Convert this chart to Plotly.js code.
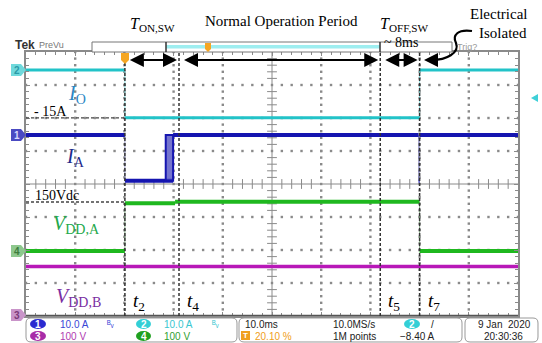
<!DOCTYPE html>
<html><head><meta charset="utf-8">
<script src="https://cdn.plot.ly/plotly-3.0.1.min.js"></script>
<style>html,body{margin:0;padding:0;background:#fff}#c{width:542px;height:343px}</style>
</head><body><div id="c"></div>
<script>
// ---- data (time in ms, 10 ms/div) ----
const ch2Edges = [0, 20.1, 80.0, 100];          // I_O  (A)
const ch2Levels = [0, -14.5, 0];
const ch1Edges = [0, 20.1, 29.9, 79.8, 80.0, 100]; // I_A (A)
const ch1Levels = [0, -13.9, 0, -14.0, 0];
const ch1Band = [28.4, 29.9];                    // switching band of I_A
const ch4Edges = [0, 20.1, 30.3, 80.0, 100];    // V_DD,A (V)
const ch4Levels = [0, 144.5, 149, 0];
const ch3Edges = [0, 100];                       // V_DD,B (V)
const ch3Levels = [150];
const markTimes = [20.1, 31.1, 72.0, 80.0];
const markLabels = ['2', '4', '5', '7'];
const refIO = -14.5;     // "-15A" reference
const refVDD = 148.5;    // "150Vdc" reference

// ---- channel settings (scope vertical position in div, units/div) ----
const chan = {1:{off:5.485, sc:10}, 2:{off:7.455, sc:10}, 3:{off:0.0, sc:100}, 4:{off:1.97, sc:100}};
const yv = (ch, v) => chan[ch].off + v / chan[ch].sc;

function levels(edges, lv, ch){
  const x=[], y=[];
  for(let i=0;i<lv.length;i++){ x.push(edges[i], edges[i+1], null); y.push(yv(ch,lv[i]), yv(ch,lv[i]), null); }
  return {x, y};
}
function trans(edges, lv, ch){
  const x=[], y=[];
  for(let i=0;i<lv.length-1;i++){ x.push(edges[i+1], edges[i+1], null); y.push(yv(ch,lv[i]), yv(ch,lv[i+1]), null); }
  return {x, y};
}
const col = {1:'#1515b0', 2:'#22c3c8', 3:'#b818b8', 4:'#1fb81f'};
const traces = [];
function addCh(edges, lv, ch, w, tcol){
  const t = trans(edges, lv, ch);
  traces.push({x:t.x, y:t.y, mode:'lines', line:{color:tcol, width:1}, hoverinfo:'skip'});
  const l = levels(edges, lv, ch);
  traces.push({x:l.x, y:l.y, mode:'lines', line:{color:col[ch], width:w}, hoverinfo:'skip'});
}

// graticule: dotted division lines + centre-line ticks (drawn as marker traces)
const dX=[], dY=[];
for(let i=1;i<10;i++){ if(i===5) continue; for(let k=0;k<=40;k++){ dX.push(i*10); dY.push(k*0.2); } }
for(let j=1;j<8;j++){ if(j===4) continue; for(let k=0;k<=50;k++){ dX.push(k*2); dY.push(j); } }
traces.push({x:dX, y:dY, mode:'markers', marker:{symbol:'square', size:2.4, color:'#8a8a8a', line:{width:0}}, hoverinfo:'skip'});
const gx=[], gy=[], hx=[], hy=[];
for(let i=1;i<50;i++){ if(i%5){ gx.push(i*2); gy.push(4);} }
for(let i=1;i<40;i++){ if(i%5){ hx.push(50); hy.push(i*0.2);} }
traces.push({x:gx, y:gy, mode:'markers', marker:{symbol:'line-ns', size:7, line:{color:'#8a8a8a', width:1}}, hoverinfo:'skip'});
traces.push({x:hx, y:hy, mode:'markers', marker:{symbol:'line-ew', size:7, line:{color:'#8a8a8a', width:1}}, hoverinfo:'skip'});

addCh(ch3Edges, ch3Levels, 3, 3.5, 'rgba(184,24,184,0.5)');
addCh(ch4Edges, ch4Levels, 4, 4, 'rgba(90,140,90,0.7)');
addCh(ch1Edges, ch1Levels, 1, 4, 'rgba(90,90,160,0.6)');
// switching band of I_A
traces.push({x:[ch1Band[0], ch1Band[1], ch1Band[1], ch1Band[0], ch1Band[0]],
  y:[yv(1,ch1Levels[1]), yv(1,ch1Levels[1]), yv(1,0), yv(1,0), yv(1,ch1Levels[1])],
  mode:'lines', fill:'toself', fillcolor:'rgba(70,70,190,0.75)', line:{color:col[1], width:2}, hoverinfo:'skip'});
addCh(ch2Edges, ch2Levels, 2, 3, 'rgba(34,195,200,0.5)');

// ---- pixel helpers for layout decorations ----
const L=26, R=518, T=52, B=316;
const px = x => (x-L)/(R-L);
const py = y => (B-y)/(B-T);
const SERIF = 'Liberation Serif, Times New Roman, serif';
const SANS = 'Liberation Sans, Arial, sans-serif';
const ann = [];
function txt(x, y, text, size, color, fam, xa){
  ann.push({xref:'paper', yref:'paper', x:px(x), y:py(y), text, showarrow:false,
    xanchor:xa||'center', yanchor:'middle', font:{family:fam||SERIF, size, color:color||'#000'}});
}
const shapes = [];
function pathPx(d, fill, line){
  const s = d.map(p => p[0] + (p.length>1 ? ' ' + p.slice(1).map((v,i)=> i%2===0 ? px(v).toFixed(5) : py(v).toFixed(5)).join(',') : '')).join(' ');
  shapes.push({type:'path', xref:'paper', yref:'paper', path:s, fillcolor:fill||'rgba(0,0,0,0)', line:line||{width:0}, layer:'above'});
}
function rectPx(x0,y0,x1,y1,fill,line){
  shapes.push({type:'rect', xref:'paper', yref:'paper', x0:px(x0), x1:px(x1), y0:py(y1), y1:py(y0), fillcolor:fill||'rgba(0,0,0,0)', line:line||{width:0}, layer:'above'});
}
function rrect(x0,y0,x1,y1,r,line){
  pathPx([['M',x0+r,y0],['L',x1-r,y0],['Q',x1,y0,x1,y0+r],['L',x1,y1-r],['Q',x1,y1,x1-r,y1],['L',x0+r,y1],['Q',x0,y1,x0,y1-r],['L',x0,y0+r],['Q',x0,y0,x0+r,y0],['Z']], 'rgba(0,0,0,0)', line);
}
function ell(x0,y0,x1,y1,fill,label,lc){
  shapes.push({type:'circle', xref:'paper', yref:'paper', x0:px(x0), x1:px(x1), y0:py(y1), y1:py(y0), fillcolor:fill, line:{width:0}, layer:'above'});
  txt((x0+x1)/2, (y0+y1)/2, '<b>'+label+'</b>', 10, lc||'#fff', SANS);
}

// center lines
shapes.push({type:'line', xref:'x', yref:'y', x0:50, x1:50, y0:0, y1:8, line:{color:'#8a8a8a', width:1}, layer:'below'});
shapes.push({type:'line', xref:'x', yref:'y', x0:0, x1:100, y0:4, y1:4, line:{color:'#8a8a8a', width:1}, layer:'below'});
// bottom border darker
shapes.push({type:'line', xref:'x', yref:'y', x0:0, x1:100, y0:0, y1:0, line:{color:'#555', width:2.5}, layer:'above'});

// marker dashed vertical lines
markTimes.forEach(t => shapes.push({type:'line', xref:'x', yref:'paper', x0:t, x1:t, y0:0, y1:1, line:{color:'#333', width:1.5, dash:'3px,2px'}, layer:'above'}));
// reference dashed horizontal lines
shapes.push({type:'line', xref:'x', yref:'y', x0:0, x1:markTimes[0], y0:yv(2,refIO), y1:yv(2,refIO), line:{color:'#444', width:1.3, dash:'3px,2px'}, layer:'above'});
shapes.push({type:'line', xref:'x', yref:'y', x0:0, x1:markTimes[0], y0:yv(4,refVDD), y1:yv(4,refVDD), line:{color:'#444', width:1.3, dash:'3px,2px'}, layer:'above'});

// arrows between markers
const arrY = (B-60)/33;
for(let i=0;i<markTimes.length-1;i++){
  ann.push({xref:'x', yref:'y', axref:'x', ayref:'y', x:markTimes[i+1], y:arrY, ax:markTimes[i], ay:arrY, text:' ',
    showarrow:true, arrowhead:2, startarrowhead:2, arrowside:'end+start', arrowsize:1.4, startarrowsize:1.4, arrowwidth:2, arrowcolor:'#000', standoff:2, startstandoff:2});
}
// curly arrow from "Electrical Isolated"
pathPx([['M',472,31],['C',458,29,452,35,456,43],['C',460,53,446,60,432,60]], null, {color:'#000', width:2.2});
ann.push({xref:'paper', yref:'paper', x:px(424), y:py(60), ax:12, ay:0, axref:'pixel', ayref:'pixel', text:' ', showarrow:true, arrowhead:2, arrowsize:1.4, arrowwidth:2, arrowcolor:'#000'});

// top texts
txt(152, 24, '<i>T</i><sub>ON,SW</sub>', 16);
txt(281, 21, 'Normal Operation Period', 15);
txt(404, 24, '<i>T</i><sub>OFF,SW</sub>', 16);
txt(401, 43, '~ 8ms', 14);
txt(498, 14, 'Electrical', 15);
txt(503, 33, 'Isolated', 15);

// scope header
txt(13, 45, '<b>Tek</b>', 12, '#333', SANS, 'left');
txt(37, 45, 'PreVu', 9, '#777', SANS, 'left');
rectPx(92, 42, 452, 52, '#fff', {color:'#777', width:1});
rectPx(166, 45, 380, 48.5, '#9eeef0', {width:0});
shapes.push({type:'line', xref:'paper', yref:'paper', x0:px(166), x1:px(166), y0:py(52), y1:py(42), line:{color:'#333', width:1.5}, layer:'above'});
shapes.push({type:'line', xref:'paper', yref:'paper', x0:px(380), x1:px(380), y0:py(52), y1:py(42), line:{color:'#333', width:1.5}, layer:'above'});
txt(455, 47, 'Trig?', 9, '#999', SANS, 'left');
// orange markers
pathPx([['M',205,43],['L',211,43],['L',211,49],['L',208,52],['L',205,49],['Z']], '#f5a623');
pathPx([['M',121,53],['L',129,53],['L',129,60],['L',125,64],['L',121,60],['Z']], '#f5a623');

// channel tags on left
function tag(c, fill, label, lc){
  pathPx([['M',11,c-6],['L',21,c-6],['L',26,c],['L',21,c+6],['L',11,c+6],['Z']], fill);
  txt(16.5, c, '<b>'+label+'</b>', 10, lc, SANS);
}
tag(70, '#6fd9dc', '2', '#2a9aa8');
tag(135, '#4a4ac2', '1', '#d8d8ff');
tag(251, '#8ec88e', '4', '#3d7d3d');
tag(315, '#c994c9', '3', '#7a3a7a');
// trigger level arrow (right)
pathPx([['M',538,94],['L',531,98],['L',538,102],['Z']], '#3fd0d8');

// signal labels
txt(77, 94, '<i>I</i><sub>O</sub>', 20, '#2b86c4');
txt(75, 157, '<i>I</i><sub>A</sub>', 20, '#1c2a8c');
txt(76, 224, '<i>V</i><sub>DD,A</sub>', 20, '#22a84a');
txt(78, 297, '<i>V</i><sub>DD,B</sub>', 20, '#7a2ea2');
txt(50, 111, '- 15A', 14);
txt(57, 195, '150Vdc', 14);
markTimes.forEach((t,i) => {
  const xp = L + t/100*(R-L) + 14;
  txt(xp, 302, '<i>t</i><sub>'+markLabels[i]+'</sub>', 19);
});

// status bar
rrect(26, 318, 237, 342, 5, {color:'#999', width:1});
rrect(239, 318, 462, 342, 5, {color:'#999', width:1});
rrect(465, 318, 538, 342, 5, {color:'#999', width:1});
ell(30, 319, 46, 329, '#2a2ad0', '1');
ell(30, 331, 46, 341, '#a82ca8', '3');
ell(136, 319, 151, 329, '#33cfd6', '2');
ell(136, 331, 151, 341, '#1fa01f', '4');
txt(58, 324, '10.0 A', 10, '#3a46d6', SANS, 'left');
txt(58, 336, '100 V', 10, '#b03ab0', SANS, 'left');
txt(162, 324, '10.0 A', 10, '#38c6d0', SANS, 'left');
txt(162, 336, '100 V', 10, '#30a030', SANS, 'left');
txt(110, 324, 'ᴮᵥ', 9, '#3a46d6', SANS);
txt(215, 324, 'ᴮᵥ', 9, '#38c6d0', SANS);
txt(243, 324, '10.0ms', 10, '#222', SANS, 'left');
rectPx(241, 331, 250, 340, '#f0a020');
txt(245.5, 335.5, '<b>T</b>', 8, '#fff', SANS);
txt(253, 336, '20.10 %', 10, '#f0a020', SANS, 'left');
txt(331, 324, '10.0MS/s', 10, '#222', SANS, 'left');
txt(331, 336, '1M points', 10, '#222', SANS, 'left');
ell(404, 319, 420, 329, '#33cfd6', '2');
txt(432, 324, '/', 10, '#222', SANS);
txt(417, 336, '\u22128.40 A', 10, '#222', SANS);
txt(533, 324, '9 Jan  2020', 10, '#222', SANS, 'right');
txt(503, 336, '20:30:36', 10, '#222', SANS);

const axBase = {showticklabels:false, zeroline:false, showline:true, linecolor:'#8a8a8a', linewidth:2, mirror:'ticks',
  ticks:'inside', ticklen:4, tickcolor:'#8a8a8a', tickwidth:1, showgrid:false, fixedrange:true};
const layout = {
  width:542, height:343, margin:{l:L, r:542-R, t:T, b:343-B}, paper_bgcolor:'#fff', plot_bgcolor:'#fff', showlegend:false,
  xaxis:Object.assign({}, axBase, {range:[0,100], dtick:10, tick0:0, minor:{dtick:2, ticks:'inside', ticklen:3, tickcolor:'#8a8a8a', showgrid:false}}),
  yaxis:Object.assign({}, axBase, {range:[0,8], dtick:1, tick0:0, minor:{dtick:0.2, ticks:'inside', ticklen:3, tickcolor:'#8a8a8a', showgrid:false}}),
  shapes, annotations:ann
};
Plotly.newPlot('c', traces, layout, {displayModeBar:false, staticPlot:true});
</script></body></html>
